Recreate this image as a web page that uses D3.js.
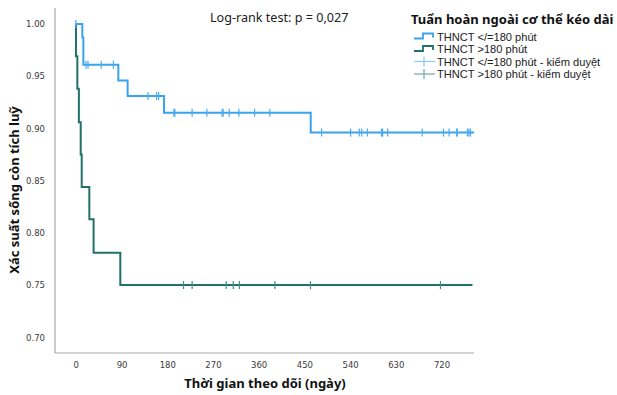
<!DOCTYPE html>
<html>
<head>
<meta charset="utf-8">
<script src="https://cdn.jsdelivr.net/npm/d3@7"></script>
<style>
  body { margin: 0; background: #fff; }
  svg { font-family: "Noto Sans", "Open Sans", sans-serif; }
</style>
</head>
<body>
<div id="chart"></div>
<script>
// Kaplan-Meier steps (time in days, cumulative survival)
var blueTimes = [0, 12.8, 14.8, 83.7, 102, 173.7, 462.5];
var blueSurv = [1, 0.987, 0.961, 0.946, 0.931, 0.915, 0.896];
var blueEnd = 784;
var blueCensor = [0, 20, 24, 50, 74, 142, 159, 163, 193, 195, 229, 258, 288, 290, 302, 321, 352, 382,
                  484, 541, 558, 563, 574, 602, 604, 614, 682, 724, 735, 750, 751, 771, 774, 777];

var greenTimes = [0, 0.3, 3, 6, 9.6, 11.6, 26.6, 35, 87.6];
var greenSurv = [1, 0.969, 0.938, 0.906, 0.875, 0.844, 0.813, 0.781, 0.75];
var greenEnd = 781;
var greenCensor = [212, 229, 296, 310, 322, 392, 462, 718];

var xTicks = [0, 90, 180, 270, 360, 450, 540, 630, 720];
var yTicks = [0.70, 0.75, 0.80, 0.85, 0.90, 0.95, 1.00];

var legendLabels = ["THNCT </=180 phút", "THNCT >180 phút",
                    "THNCT </=180 phút - kiểm duyệt", "THNCT >180 phút - kiểm duyệt"];

function drawKM(containerSelector) {
	var width = 617, height = 395;
	var svg = d3.select(containerSelector).append("svg")
		.attr("width", width)
		.attr("height", height);

	// plot area
	var left = 55, right = 474, top = 8, bottom = 353;

	var x = d3.scaleLinear().domain([-41, 784]).range([left, right]);
	var y = d3.scaleLinear().domain([0.685, 1.0153]).range([bottom, top]);

	// axes, no tick marks, only labels
	var xAxis = svg.append("g")
		.attr("transform", "translate(0," + bottom + ")")
		.call(d3.axisBottom(x).tickValues(xTicks).tickSize(0).tickPadding(9));
	var yAxis = svg.append("g")
		.attr("transform", "translate(" + left + ",0)")
		.call(d3.axisLeft(y).tickValues(yTicks).tickSize(0).tickPadding(10).tickFormat(d3.format(".2f")));

	[xAxis, yAxis].forEach(function(ax) {
		ax.select(".domain").attr("stroke", "#a8a8a8").attr("stroke-width", 1.2);
		ax.selectAll("text").attr("fill", "#3a3a3a").attr("font-size", 8.5)
			.attr("font-family", "'DejaVu Sans', sans-serif");
	});
	xAxis.select(".domain").attr("d", "M" + left + ",0H" + right);
	yAxis.select(".domain").attr("d", "M0," + top + "V" + bottom);

	function survAt(times, surv, t) {
		var i = d3.bisectRight(times, t) - 1;
		return surv[Math.max(i, 0)];
	}

	var stepLine = d3.line()
		.x(function(d) { return x(d[0]); })
		.y(function(d) { return y(d[1]); })
		.curve(d3.curveStepAfter);

	function drawGroup(times, surv, end, censor, color, tickColor) {
		var pts = times.map(function(t, i) { return [t, surv[i]]; });
		pts.push([end, surv[surv.length - 1]]);
		svg.append("path")
			.datum(pts)
			.attr("fill", "none")
			.attr("stroke", color)
			.attr("stroke-width", 2)
			.attr("d", stepLine);
		svg.append("g").selectAll("line")
			.data(censor)
			.enter().append("line")
			.attr("x1", function(d) { return x(d); })
			.attr("x2", function(d) { return x(d); })
			.attr("y1", function(d) { return y(survAt(times, surv, d)) - 4; })
			.attr("y2", function(d) { return y(survAt(times, surv, d)) + 4; })
			.attr("stroke", tickColor)
			.attr("stroke-width", 1.2);
	}

	drawGroup(greenTimes, greenSurv, greenEnd, greenCensor, "#22706a", "#3f8f88");
	drawGroup(blueTimes, blueSurv, blueEnd, blueCensor, "#3aa3ee", "#4aaaf0");

	// axis titles
	svg.append("text")
		.attr("x", 265).attr("y", 388)
		.attr("text-anchor", "middle")
		.attr("font-size", 13).attr("font-weight", "bold")
		.attr("fill", "#111")
		.text("Thời gian theo dõi (ngày)");
	svg.append("text")
		.attr("transform", "translate(19,190) rotate(-90)")
		.attr("text-anchor", "middle")
		.attr("font-size", 13).attr("font-weight", "bold")
		.attr("fill", "#111")
		.text("Xác suất sống còn tích luỹ");

	// log-rank note
	svg.append("text")
		.attr("x", 210).attr("y", 22)
		.attr("font-size", 12.6)
		.attr("fill", "#222")
		.text("Log-rank test: p = 0,027");

	// legend
	var lg = svg.append("g");
	lg.append("text")
		.attr("x", 411).attr("y", 24)
		.attr("font-size", 13).attr("font-weight", "bold")
		.attr("fill", "#111")
		.text("Tuẩn hoàn ngoài cơ thể kéo dài");

	var rowY = [36.5, 49, 61.5, 74];
	var stepColors = ["#3aa3ee", "#22706a"];
	var censorColors = ["#8cc9f5", "#6aaaa3"];
	legendLabels.forEach(function(lab, i) {
		var yy = rowY[i];
		if (i < 2) {
			lg.append("path")
				.attr("d", "M414," + (yy + 2) + "H423V" + (yy - 3) + "H433V" + (yy + 1))
				.attr("fill", "none")
				.attr("stroke", stepColors[i])
				.attr("stroke-width", 1.8);
		} else {
			lg.append("line")
				.attr("x1", 414).attr("x2", 435).attr("y1", yy).attr("y2", yy)
				.attr("stroke", censorColors[i - 2]).attr("stroke-width", 1.2);
			lg.append("line")
				.attr("x1", 424).attr("x2", 424).attr("y1", yy - 5).attr("y2", yy + 5)
				.attr("stroke", censorColors[i - 2]).attr("stroke-width", 1.2);
		}
		lg.append("text")
			.attr("x", 437).attr("y", yy + 4)
			.attr("font-size", 11.1)
			.attr("font-family", "'Liberation Sans', Arial, sans-serif")
			.attr("fill", "#222")
			.text(lab);
	});
}

drawKM("#chart");
</script>
</body>
</html>
